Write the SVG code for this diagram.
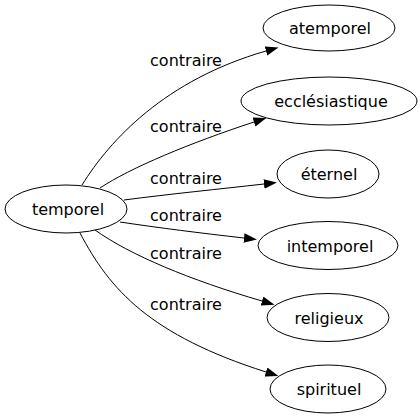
<svg xmlns="http://www.w3.org/2000/svg" width="420" height="419" viewBox="0 0 420 419">
<style>
.n ellipse{fill:#fff;stroke:#000;stroke-width:1}
.n text,.lbl{font-family:"DejaVu Sans","Liberation Sans",sans-serif;font-size:16px;fill:#000}
.n text{text-anchor:middle}
.e path{fill:none;stroke:#000;stroke-width:1;marker-end:url(#arr)}
</style>
<defs>
<marker id="arr" markerUnits="userSpaceOnUse" markerWidth="14" markerHeight="10" refX="0" refY="4.7" orient="auto">
<path d="M0,0 L13,4.7 L0,9.4 z" fill="#000"/>
</marker>
</defs>
<rect width="420" height="419" fill="#fff"/>
<g id="edges" class="e">
<path d="M82,185 C110,140 165,80 266,51"/>
<path d="M100,188 C130,168 190,143 254,122"/>
<path d="M124,200 C170,194 220,189 264,184"/>
<path d="M120,222 C160,228 200,233 244,238"/>
<path d="M95,230 C130,255 190,280 262,301"/>
<path d="M80,233 C110,290 150,335 266,372"/>
</g>
<g id="labels">
<text class="lbl" x="186" y="66" text-anchor="middle">contraire</text>
<text class="lbl" x="186" y="132" text-anchor="middle">contraire</text>
<text class="lbl" x="186" y="184" text-anchor="middle">contraire</text>
<text class="lbl" x="186" y="221" text-anchor="middle">contraire</text>
<text class="lbl" x="186" y="259" text-anchor="middle">contraire</text>
<text class="lbl" x="186" y="310" text-anchor="middle">contraire</text>
</g>
<g id="temporel" class="n"><ellipse cx="66" cy="209" rx="61" ry="24"/><text x="68" y="215">temporel</text></g>
<g id="atemporel" class="n"><ellipse cx="329" cy="28" rx="66" ry="23"/><text x="330" y="34">atemporel</text></g>
<g id="ecclesiastique" class="n"><ellipse cx="329" cy="101" rx="88" ry="24"/><text x="331" y="107">ecclésiastique</text></g>
<g id="eternel" class="n"><ellipse cx="328" cy="174" rx="51" ry="24"/><text x="329" y="180">éternel</text></g>
<g id="intemporel" class="n"><ellipse cx="328" cy="245.5" rx="70" ry="24"/><text x="330" y="251.5">intemporel</text></g>
<g id="religieux" class="n"><ellipse cx="328" cy="317.5" rx="61" ry="24"/><text x="329" y="323.5">religieux</text></g>
<g id="spirituel" class="n"><ellipse cx="328" cy="389" rx="58" ry="24"/><text x="329" y="395">spirituel</text></g>
</svg>
